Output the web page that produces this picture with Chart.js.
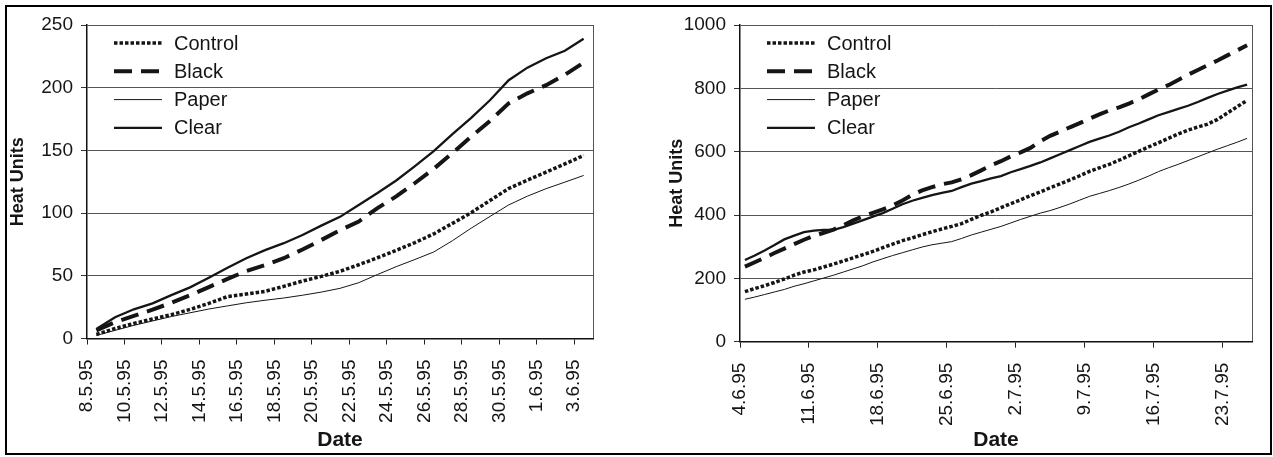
<!DOCTYPE html>
<html>
<head>
<meta charset="utf-8">
<script src="https://cdn.jsdelivr.net/npm/chart.js"></script>
<style>
  html, body { margin: 0; padding: 0; background: #fff; }
  #page { position: relative; width: 1273px; height: 457px; overflow: hidden; }
  #frame { position: absolute; left: 5px; top: 5px; width: 1263px; height: 446px; border: 2px solid #000; pointer-events: none; }
  canvas { position: absolute; top: 0; }
  #left-chart { left: 0; }
  #right-chart { left: 636px; }
</style>
</head>
<body>
<div id="page">
  <canvas id="left-chart" width="636" height="457"></canvas>
  <canvas id="right-chart" width="637" height="457"></canvas>
  <div id="frame"></div>
</div>
<script>
const seriesNames = ['Control', 'Black', 'Paper', 'Clear'];

// May - June 1995
const leftDates = ['8.5.95', '9.5.95', '10.5.95', '11.5.95', '12.5.95', '13.5.95', '14.5.95', '15.5.95', '16.5.95',
    '17.5.95', '18.5.95', '19.5.95', '20.5.95', '21.5.95', '22.5.95', '23.5.95', '24.5.95', '25.5.95', '26.5.95',
    '27.5.95', '28.5.95', '29.5.95', '30.5.95', '31.5.95', '1.6.95', '2.6.95', '3.6.95'];
const leftControl = [3.2, 8, 12, 15.5, 19, 23.2, 28, 33.4, 35.4, 37.6, 41.6, 45.8, 49.5, 53.6, 58.8, 64.4, 70.3, 76.5, 83.4, 91.8, 100.4, 110, 119.6, 126.3, 132.7, 139.2, 146];
const leftBlack = [6.5, 13, 18, 23, 28.5, 34.5, 41, 47.5, 53.8, 58.5, 64, 71, 78.5, 86.4, 93.3, 104, 113.3, 124, 135.3, 147.9, 161, 173.5, 187.5, 195.5, 202, 210.3, 220];
const leftPaper = [2.5, 6.5, 10.5, 14, 17.5, 20.5, 23.5, 26, 28.5, 30.5, 32.3, 34.5, 37, 40, 44.5, 51, 57.3, 63, 69, 78, 88, 97.3, 106.5, 113.5, 119.5, 124.7, 130];
const leftClear = [7.5, 17, 23.3, 28, 34.6, 40.8, 48.5, 56.5, 64, 70.5, 76, 82.5, 90, 97, 106.5, 116, 126, 137.5, 149.5, 163, 176, 190, 206, 216, 223.5, 229.5, 239];

// June - July 1995
const rightDates = ['4.6.95', '5.6.95', '6.6.95', '7.6.95', '8.6.95', '9.6.95', '10.6.95', '11.6.95', '12.6.95',
    '13.6.95', '14.6.95', '15.6.95', '16.6.95', '17.6.95', '18.6.95', '19.6.95', '20.6.95', '21.6.95', '22.6.95',
    '23.6.95', '24.6.95', '25.6.95', '26.6.95', '27.6.95', '28.6.95', '29.6.95', '30.6.95', '1.7.95', '2.7.95',
    '3.7.95', '4.7.95', '5.7.95', '6.7.95', '7.7.95', '8.7.95', '9.7.95', '10.7.95', '11.7.95', '12.7.95',
    '13.7.95', '14.7.95', '15.7.95', '16.7.95', '17.7.95', '18.7.95', '19.7.95', '20.7.95', '21.7.95', '22.7.95',
    '23.7.95', '24.7.95', '25.7.95'];
const rightControl = [158, 168, 177, 187, 198, 210, 220, 227, 236, 245, 255, 265, 275, 285, 297, 308, 319, 328, 338, 347, 356, 364, 373, 386, 399, 410,
    423, 436, 448, 461, 473, 486, 498, 511, 524, 538, 549, 560, 573, 587, 601, 615, 628, 642, 656, 668, 678, 687, 702, 722, 742, 762];
const rightBlack = [237, 251, 265, 280, 294, 308, 322, 334, 344, 354, 368, 383, 396, 407, 418, 430, 446, 464, 478, 488, 497, 503, 513, 526, 541, 557,
    570, 585, 598, 612, 633, 650, 663, 677, 690, 704, 718, 730, 740, 752, 765, 781, 796, 810, 826, 843, 858, 873, 888, 904, 920, 936];
const rightPaper = [134, 141, 149, 157, 165, 175, 183, 192, 201, 210, 220, 230, 240, 252, 262, 272, 281, 290, 299, 306, 311, 316, 326, 337, 346, 355,
    364, 375, 386, 396, 406, 414, 424, 435, 447, 459, 468, 477, 487, 498, 510, 523, 537, 549, 560, 572, 584, 596, 608, 619, 630, 642];
const rightClear = [258, 272, 288, 305, 323, 335, 346, 351, 353, 353, 362, 373, 384, 395, 406, 420, 434, 445, 454, 463, 470, 476, 488, 499, 507, 516,
    523, 535, 545, 555, 566, 579, 592, 605, 618, 631, 641, 651, 663, 677, 689, 702, 715, 725, 735, 745, 757, 770, 782, 793, 803, 812];

const FONT = '"Liberation Sans", Arial, sans-serif';
const INK = '#151515';

const lineStyles = {
    Control: { borderWidth: 3.5, borderDash: [3.5, 2] },
    Black: { borderWidth: 4, borderDash: [18, 9] },
    Paper: { borderWidth: 1 },
    Clear: { borderWidth: 2.3 },
};

// legend inside the plot + right edge of the plot frame
const plotExtras = {
    id: 'plotExtras',
    beforeDatasetsDraw(chart) {
        const { ctx, chartArea } = chart;
        ctx.save();
        ctx.strokeStyle = '#555';
        ctx.lineWidth = 1;
        ctx.beginPath();
        ctx.moveTo(Math.round(chartArea.right) + 0.5, chartArea.top);
        ctx.lineTo(Math.round(chartArea.right) + 0.5, chartArea.bottom);
        ctx.stroke();
        ctx.restore();
    },
    afterDraw(chart) {
        const { ctx, chartArea } = chart;
        ctx.save();
        ctx.font = '20px ' + FONT;
        ctx.textBaseline = 'middle';
        chart.data.datasets.forEach((ds, i) => {
            const y = chartArea.top + 18 + i * 28.3;
            ctx.beginPath();
            ctx.setLineDash(ds.borderDash || []);
            ctx.lineWidth = ds.borderWidth;
            ctx.strokeStyle = ds.borderColor;
            ctx.moveTo(chartArea.left + 27, y);
            ctx.lineTo(chartArea.left + 75, y);
            ctx.stroke();
            ctx.setLineDash([]);
            ctx.fillStyle = INK;
            ctx.fillText(ds.label, chartArea.left + 87, y + 1);
        });
        ctx.restore();
    }
};

function newChart(id, dates, values, yMax, yStep, xStep, box) {
    return new Chart(document.getElementById(id), {
        type: 'line',
        data: {
            datasets: seriesNames.map((name, k) => ({
                label: name,
                data: values[k].map((v, i) => ({ x: i + 0.5, y: v })),
                borderColor: INK,
                pointRadius: 0,
                tension: 0,
                fill: false,
                ...lineStyles[name]
            }))
        },
        options: {
            responsive: false,
            animation: false,
            layout: { padding: { left: box.padLeft, right: box.padRight, top: 25, bottom: 0 } },
            plugins: { legend: { display: false }, tooltip: { enabled: false } },
            scales: {
                x: {
                    type: 'linear',
                    min: 0,
                    max: dates.length,
                    grid: { drawOnChartArea: false, tickLength: 6, tickColor: '#222' },
                    border: { color: '#111', width: 1.5, z: 1 },
                    ticks: {
                        stepSize: xStep, includeBounds: false, autoSkip: false,
                        minRotation: 90, maxRotation: 90, padding: 15,
                        color: INK, font: { family: FONT, size: 19 },
                        callback: v => dates[v]
                    },
                    title: {
                        display: true, text: 'Date', color: INK,
                        font: { family: FONT, size: 21, weight: 'bold' },
                        padding: { top: 0, bottom: 4 }
                    },
                    afterFit: s => { s.height = box.axisHeight; }
                },
                y: {
                    min: 0,
                    max: yMax,
                    grid: { color: '#555', lineWidth: 1, tickLength: 6, tickColor: '#333' },
                    border: { color: '#111', width: 1.5, z: 1 },
                    ticks: {
                        stepSize: yStep, padding: 8, color: INK, font: { family: FONT, size: 19 },
                        callback: v => String(v)
                    },
                    title: {
                        display: true, text: 'Heat Units', color: INK,
                        font: { family: FONT, size: 18, weight: 'bold' },
                        padding: { top: 7, bottom: 0 }
                    },
                    afterFit: s => { s.width = box.axisWidth; }
                }
            }
        },
        plugins: [plotExtras]
    });
}

newChart('left-chart', leftDates, [leftControl, leftBlack, leftPaper, leftClear], 250, 50, 2,
    { padLeft: 0, padRight: 43, axisWidth: 87, axisHeight: 118.5 });
newChart('right-chart', rightDates, [rightControl, rightBlack, rightPaper, rightClear], 1000, 200, 7,
    { padLeft: 23, padRight: 21, axisWidth: 81, axisHeight: 115.3 });
</script>
</body>
</html>
